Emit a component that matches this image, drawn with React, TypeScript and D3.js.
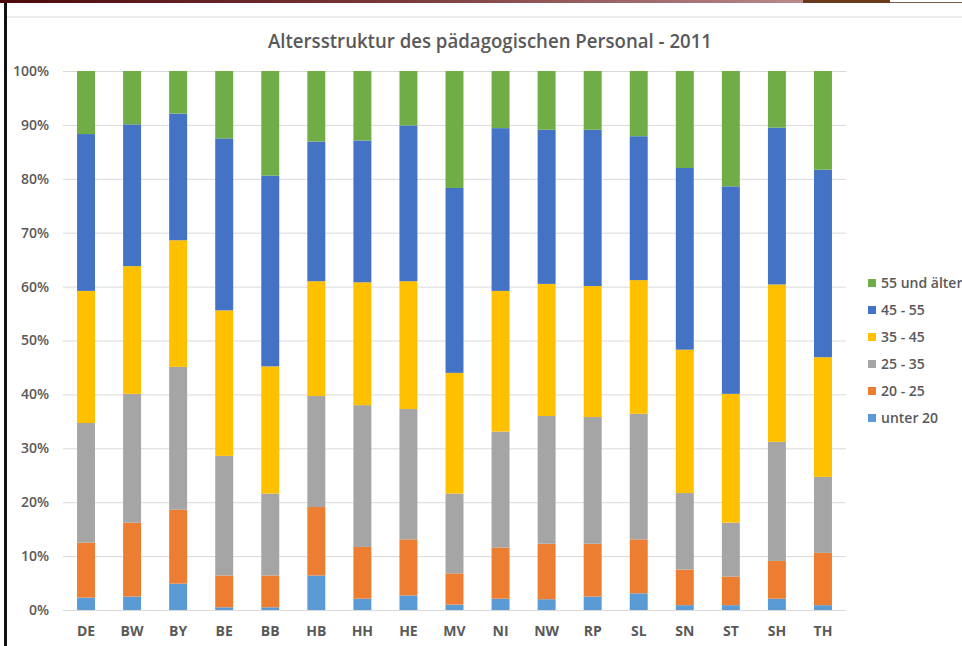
import React from "react";
import * as d3 from "d3";

// Bundesländer (categories)
const laender = ["DE", "BW", "BY", "BE", "BB", "HB", "HH", "HE", "MV", "NI", "NW", "RP", "SL", "SN", "ST", "SH", "TH"];

// Anteile je Altersgruppe in %
const unter20 = [2.3, 2.5, 4.9, 0.5, 0.5, 6.4, 2.1, 2.7, 1.0, 2.1, 2.0, 2.5, 3.1, 0.9, 0.9, 2.1, 0.9];
const a20bis25 = [10.2, 13.7, 13.7, 5.9, 5.9, 12.7, 9.6, 10.4, 5.8, 9.5, 10.3, 9.8, 10.0, 6.6, 5.3, 7.0, 9.7];
const a25bis35 = [22.2, 23.9, 26.5, 22.2, 15.2, 20.6, 26.3, 24.2, 14.8, 21.5, 23.7, 23.5, 23.3, 14.2, 10.0, 22.1, 14.1];
const a35bis45 = [24.5, 23.7, 23.5, 27.0, 23.6, 21.3, 22.8, 23.7, 22.4, 26.1, 24.5, 24.3, 24.8, 26.6, 23.9, 29.2, 22.2];
const a45bis55 = [29.1, 26.3, 23.5, 31.9, 35.4, 25.9, 26.3, 28.9, 34.3, 30.2, 28.6, 29.0, 26.7, 33.7, 38.5, 29.1, 34.8];
const ab55 = [11.7, 9.9, 7.9, 12.5, 19.4, 13.1, 12.9, 10.1, 21.7, 10.6, 10.9, 10.9, 12.1, 18.0, 21.4, 10.5, 18.3];

const seriesNames = ["unter 20", "20 - 25", "25 - 35", "35 - 45", "45 - 55", "55 und älter"];
const seriesValues = [unter20, a20bis25, a25bis35, a35bis45, a45bis55, ab55];
const colors = ["#5B9BD5", "#ED7D31", "#A5A5A5", "#FFC000", "#4472C4", "#70AD47"];

const W = 962;
const H = 646;
const plot = { left: 63, right: 846, top: 71, bottom: 610 };
const textColor = "#595959";
const font = "'Open Sans', 'Noto Sans', sans-serif";

export default function App() {
  const rows = laender.map((l, i) => {
    const r: any = { land: l };
    seriesNames.forEach((s, k) => (r[s] = seriesValues[k][i]));
    return r;
  });
  const stacked = d3.stack<any>().keys(seriesNames)(rows);

  const x = d3.scaleBand().domain(laender).range([plot.left, plot.right]).paddingInner(0.61).paddingOuter(0.305);
  const y = d3.scaleLinear().domain([0, 100]).range([plot.bottom, plot.top]);
  const ticks = d3.range(0, 101, 10);

  // legend listed top-down from the oldest group
  const legendItems = seriesNames.map((s, k) => ({ s, c: colors[k] })).reverse();

  return (
    <svg width={W} height={H} style={{ position: "absolute", left: 0, top: 0, background: "#fff" }}>
      <defs>
        <linearGradient id="topbar" x1="0" x2="1" y1="0" y2="0">
          <stop offset="0" stopColor="#4a0a0c" />
          <stop offset="0.5" stopColor="#7a3a3c" />
          <stop offset="1" stopColor="#b98a8c" />
        </linearGradient>
      </defs>
      {/* window chrome around the screenshot */}
      <rect x={0} y={0} width={803} height={3} fill="url(#topbar)" />
      <rect x={803} y={0} width={87} height={3} fill="#6b3a1e" />
      <line x1={890} x2={W} y1={2.5} y2={2.5} stroke="#7a5a4a" />
      <line x1={7} x2={W} y1={17} y2={17} stroke="#d9d9d9" />
      <rect x={4} y={3} width={3} height={H - 3} fill="#111" />

      <text
        x={490}
        y={48}
        textAnchor="middle"
        fontFamily={font}
        fontWeight={600}
        fontSize={19}
        fill={textColor}
        textLength={444}
        lengthAdjust="spacingAndGlyphs"
      >
        Altersstruktur des pädagogischen Personal - 2011
      </text>

      {ticks.map((t) => (
        <g key={t}>
          <line x1={plot.left} x2={plot.right} y1={y(t) + 0.5} y2={y(t) + 0.5} stroke="#d9d9d9" />
          <text
            x={49}
            y={y(t)}
            dy="0.35em"
            textAnchor="end"
            fontFamily={font}
            fontWeight={600}
            fontSize={14}
            fill={textColor}
          >
            {t}%
          </text>
        </g>
      ))}

      {stacked.map((layer, k) => (
        <g key={layer.key} fill={colors[k]}>
          {layer.map((d, i) => (
            <rect
              key={i}
              x={x(laender[i])}
              width={x.bandwidth()}
              y={y(d[1])}
              height={y(d[0]) - y(d[1])}
            />
          ))}
        </g>
      ))}

      {laender.map((l) => (
        <text
          key={l}
          x={(x(l) as number) + x.bandwidth() / 2}
          y={636}
          textAnchor="middle"
          fontFamily={font}
          fontWeight={700}
          fontSize={14}
          fill={textColor}
        >
          {l}
        </text>
      ))}

      {legendItems.map((it, i) => (
        <g key={it.s} transform={`translate(868, ${283 + i * 27})`}>
          <rect x={0} y={-4} width={8} height={8} fill={it.c} />
          <text x={13} y={0} dy="0.35em" fontFamily={font} fontWeight={600} fontSize={14} fill={textColor}>
            {it.s}
          </text>
        </g>
      ))}
    </svg>
  );
}
